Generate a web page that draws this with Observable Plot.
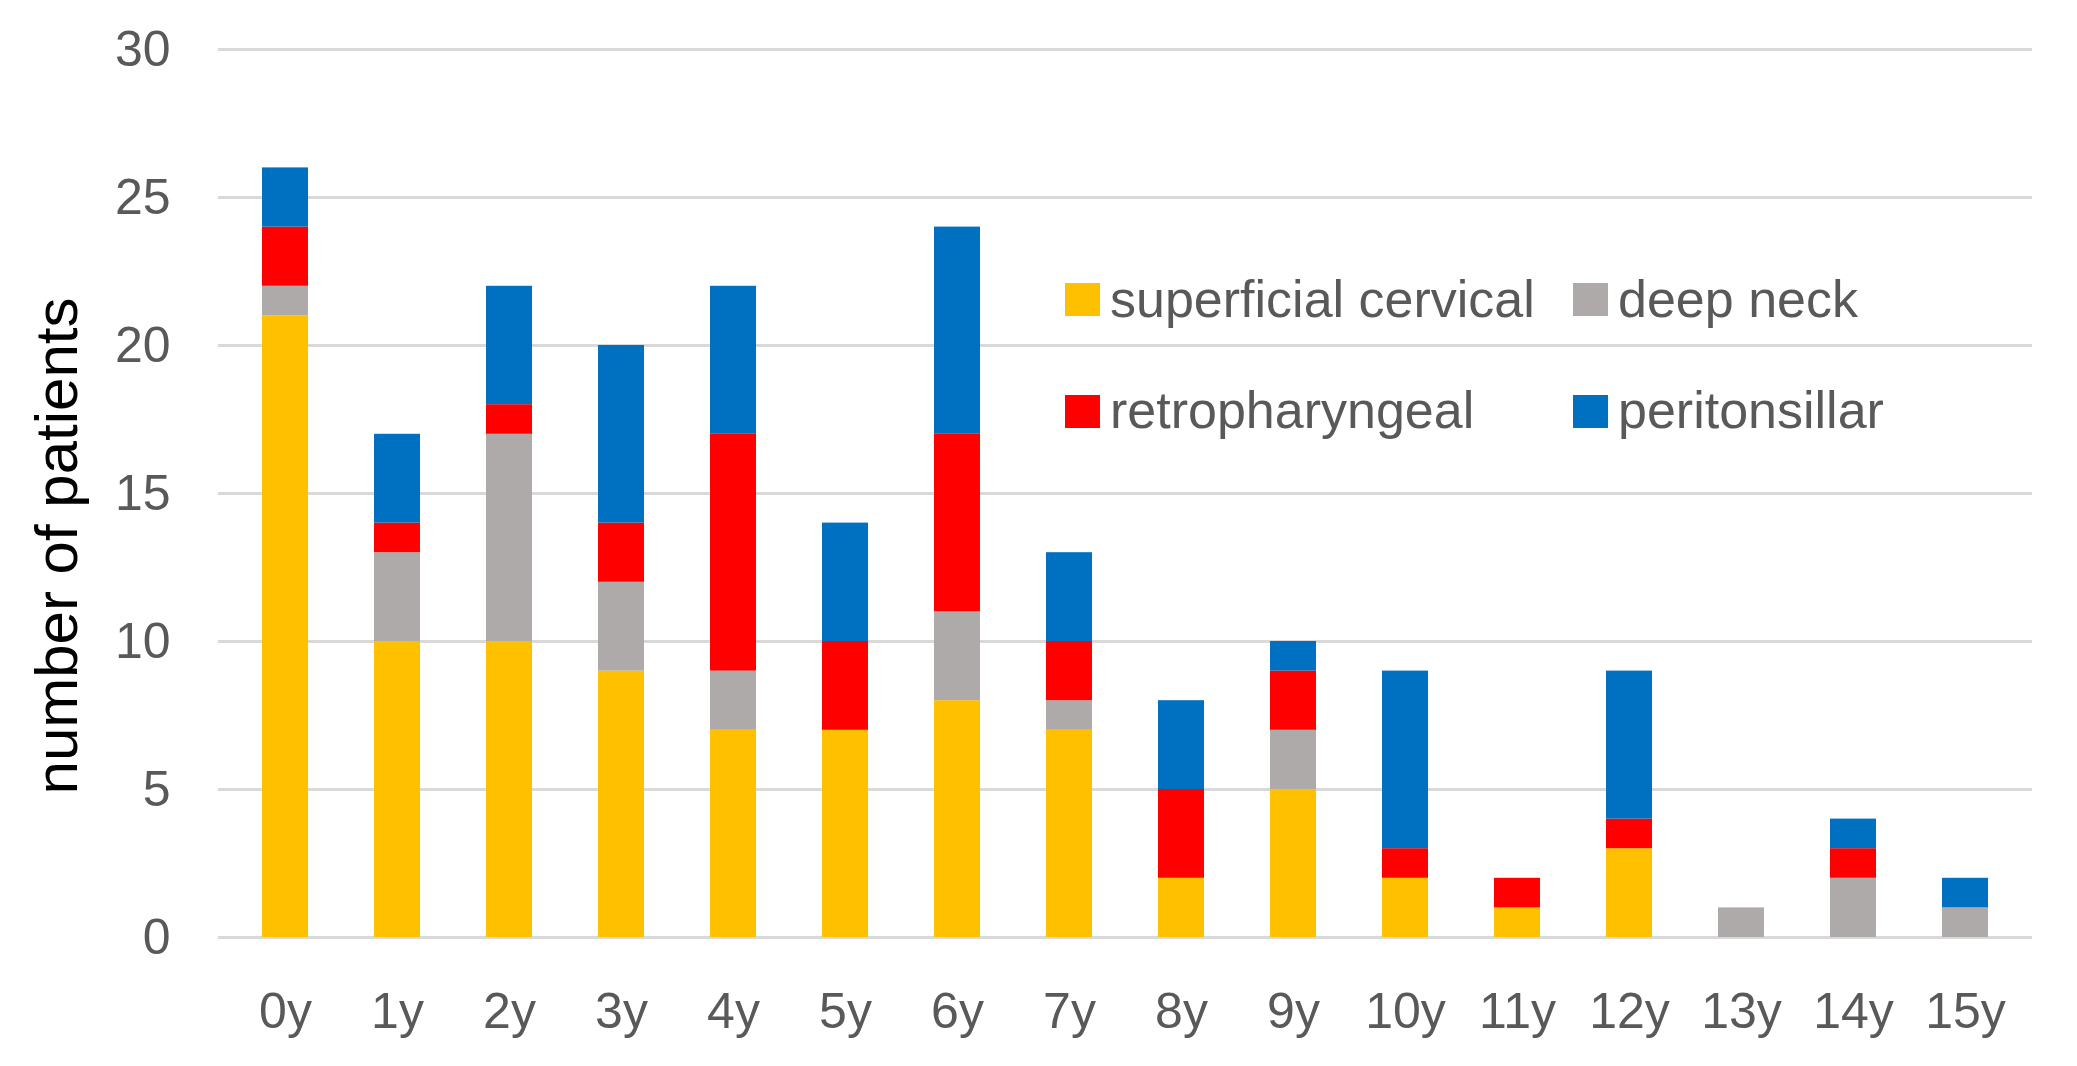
<!DOCTYPE html>
<html>
<head>
<meta charset="utf-8">
<script src="https://cdn.jsdelivr.net/npm/d3@7"></script>
<script src="https://cdn.jsdelivr.net/npm/@observablehq/plot@0.6"></script>
<style>
  html, body { margin: 0; padding: 0; background: #fff; }
  #wrap { position: relative; width: 2077px; height: 1066px; font-family: "Liberation Sans", Arial, sans-serif; }
  #ytitle { position: absolute; left: 57px; top: 546px; transform: translate(-50%, -50%) rotate(-90deg);
            white-space: nowrap; font-size: 60px; color: #000; line-height: 1; }
  .sw { position: absolute; width: 35px; height: 33px; }
  .lt { position: absolute; font-size: 52px; line-height: 1; color: #595959; white-space: nowrap; }
</style>
</head>
<body>
<div id="wrap"></div>
<script>
const ages = ["0y","1y","2y","3y","4y","5y","6y","7y","8y","9y","10y","11y","12y","13y","14y","15y"];
const superficial = [21,10,10,9,7,7,8,7,2,5,2,1,3,0,0,0];
const deepNeck    = [1,3,7,3,2,0,3,1,0,2,0,0,0,1,2,1];
const retro       = [2,1,1,2,8,3,6,2,3,2,1,1,1,0,1,0];
const peri        = [2,3,4,6,5,4,7,3,3,1,6,0,5,0,1,1];
const seriesNames = ["superficial cervical","deep neck","retropharyngeal","peritonsillar"];
const seriesColors = ["#FFC000","#AEAAAA","#FF0000","#0070C0"];
const yTicks = [0,5,10,15,20,25,30];
const yTitle = "number of patients";

const seriesValues = [superficial, deepNeck, retro, peri];
const data = ages.flatMap((a, i) => seriesNames.map((s, j) => ({age: a, series: s, value: seriesValues[j][i]})));

const chart = Plot.plot({
  width: 2077,
  height: 1066,
  marginLeft: 218,
  marginRight: 45,
  marginTop: 49,
  marginBottom: 129,
  style: {fontFamily: "'Liberation Sans', Arial, sans-serif", background: "white", overflow: "visible"},
  x: {domain: ages, paddingInner: 0.593, paddingOuter: 0.327, label: null},
  y: {domain: [0, 30], label: null},
  color: {domain: seriesNames, range: seriesColors},
  marks: [
    Plot.ruleY(yTicks, {stroke: "#D9D9D9", strokeWidth: 3}),
    Plot.barY(data, {x: "age", y: "value", fill: "series", z: "series"}),
    Plot.axisY({ticks: yTicks, tickSize: 0, tickPadding: 48, fontSize: 50, color: "#595959", label: null}),
    Plot.axisX({tickSize: 0, tickPadding: 55, fontSize: 50, color: "#595959", label: null})
  ]
});

const wrap = document.getElementById("wrap");
wrap.appendChild(chart);

const t = document.createElement("div");
t.id = "ytitle";
t.textContent = yTitle;
wrap.appendChild(t);

const colX = [1065, 1573];
const rowSwTop = [283, 395];
const rowTextTop = [273, 384];
seriesNames.forEach((name, j) => {
  const c = j % 2, r = Math.floor(j / 2);
  const sw = document.createElement("div");
  sw.className = "sw";
  sw.style.left = colX[c] + "px";
  sw.style.top = rowSwTop[r] + "px";
  sw.style.background = seriesColors[j];
  wrap.appendChild(sw);
  const lt = document.createElement("div");
  lt.className = "lt";
  lt.style.left = (colX[c] + 45) + "px";
  lt.style.top = rowTextTop[r] + "px";
  lt.textContent = name;
  wrap.appendChild(lt);
});
</script>
</body>
</html>
